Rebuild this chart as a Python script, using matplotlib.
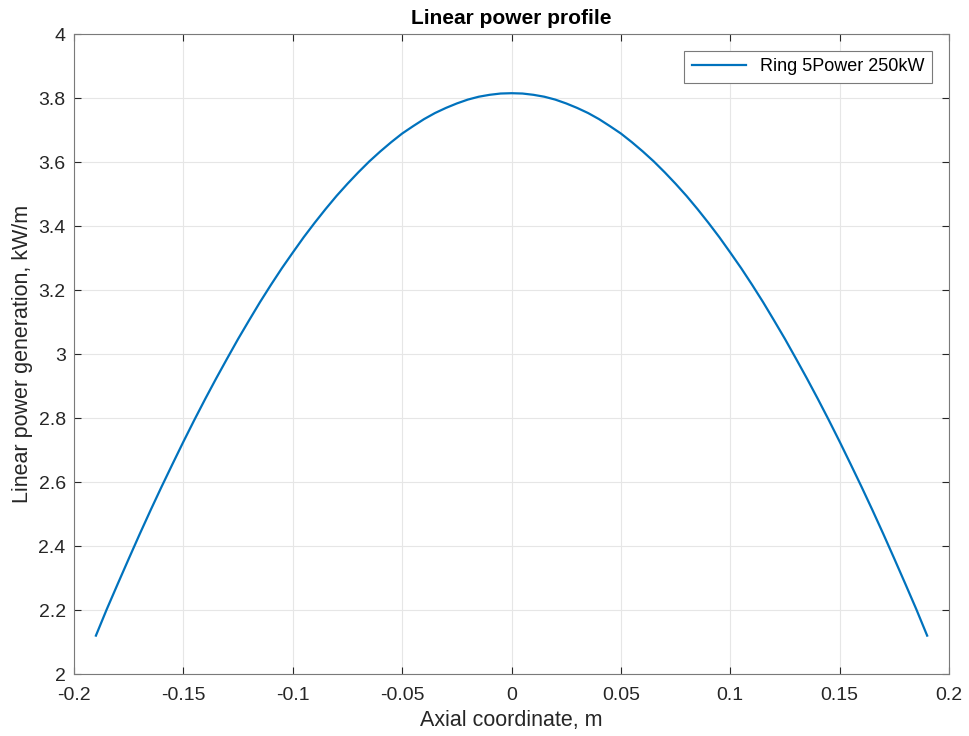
import matplotlib
matplotlib.use("Agg")
import matplotlib.pyplot as plt

plt.rcParams['font.family'] = ['Liberation Sans', 'DejaVu Sans']

# values
axial = [-0.19, -0.185, -0.18, -0.175, -0.17, -0.165, -0.16, -0.155, -0.15, -0.145,
         -0.14, -0.135, -0.13, -0.125, -0.12, -0.115, -0.11, -0.105, -0.10, -0.095,
         -0.09, -0.085, -0.08, -0.075, -0.07, -0.065, -0.06, -0.055, -0.05, -0.045,
         -0.04, -0.035, -0.03, -0.025, -0.02, -0.015, -0.01, -0.005, 0.0,
         0.005, 0.01, 0.015, 0.02, 0.025, 0.03, 0.035, 0.04, 0.045, 0.05,
         0.055, 0.06, 0.065, 0.07, 0.075, 0.08, 0.085, 0.09, 0.095, 0.10,
         0.105, 0.11, 0.115, 0.12, 0.125, 0.13, 0.135, 0.14, 0.145, 0.15,
         0.155, 0.16, 0.165, 0.17, 0.175, 0.18, 0.185, 0.19]
power = [2.120, 2.203, 2.282, 2.360, 2.437, 2.512, 2.585, 2.656, 2.726, 2.794,
         2.860, 2.924, 2.986, 3.047, 3.105, 3.162, 3.216, 3.268, 3.317, 3.365,
         3.410, 3.453, 3.494, 3.532, 3.568, 3.602, 3.633, 3.662, 3.689, 3.712,
         3.734, 3.753, 3.769, 3.783, 3.795, 3.804, 3.810, 3.814, 3.815,
         3.814, 3.810, 3.804, 3.795, 3.783, 3.769, 3.753, 3.734, 3.712, 3.689,
         3.662, 3.633, 3.602, 3.568, 3.532, 3.494, 3.453, 3.410, 3.365, 3.317,
         3.268, 3.216, 3.162, 3.105, 3.047, 2.986, 2.924, 2.860, 2.794, 2.726,
         2.656, 2.585, 2.512, 2.437, 2.360, 2.282, 2.203, 2.120]
xticks = [-0.2, -0.15, -0.1, -0.05, 0, 0.05, 0.1, 0.15, 0.2]
xtick_labels = ['-0.2', '-0.15', '-0.1', '-0.05', '0', '0.05', '0.1', '0.15', '0.2']
yticks = [2, 2.2, 2.4, 2.6, 2.8, 3, 3.2, 3.4, 3.6, 3.8, 4]
ytick_labels = ['2', '2.2', '2.4', '2.6', '2.8', '3', '3.2', '3.4', '3.6', '3.8', '4']

fig = plt.figure(figsize=(9.69, 7.36), dpi=100)
ax = fig.add_axes([0.0764, 0.0842, 0.903, 0.8696])

ax.plot(axial, power, color='#0072BD', lw=1.6, label='Ring 5Power 250kW')

ax.set_xlim(-0.2, 0.2)
ax.set_ylim(2, 4)
ax.set_xticks(xticks)
ax.set_xticklabels(xtick_labels)
ax.set_yticks(yticks)
ax.set_yticklabels(ytick_labels)
ax.tick_params(direction='in', length=5, width=0.8, top=True, right=True,
               labelsize=14, color='#262626', labelcolor='#262626')
ax.tick_params(axis='x', pad=9)
ax.tick_params(axis='y', pad=6)
ax.grid(True, color='#e6e6e6', lw=0.8)
ax.set_axisbelow(True)
for s in ax.spines.values():
    s.set_color('#7a7a7a')
    s.set_linewidth(0.8)

ax.set_xlabel('Axial coordinate, m', fontsize=15.5, color='#262626', labelpad=5)
ax.set_ylabel('Linear power generation, kW/m', fontsize=15.5, color='#262626', labelpad=4)
ax.set_title('Linear power profile', fontsize=15, fontweight='bold', pad=7)

leg = ax.legend(loc='upper right', fontsize=13, fancybox=False, framealpha=1,
                edgecolor='#7a7a7a', borderaxespad=0.95, handlelength=3.0,
                borderpad=0.4)
leg.get_frame().set_linewidth(0.8)

fig.savefig('out.png', dpi=100)
